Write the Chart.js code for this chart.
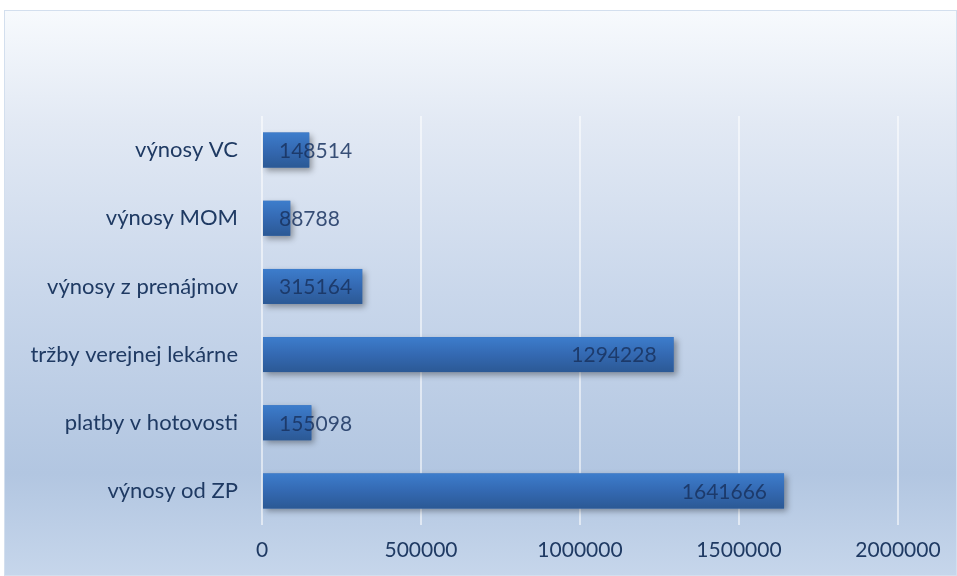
<!DOCTYPE html>
<html>
<head>
<meta charset="utf-8">
<script src="https://cdn.jsdelivr.net/npm/chart.js@4"></script>
<style>
  html, body { margin: 0; padding: 0; background: #fff; }
  #box {
    position: absolute; left: 4px; top: 10px; width: 951px; height: 564px;
    border: 1px solid #D3DFEE;
    background: linear-gradient(to bottom, #F7FAFD 0%, #E2E9F4 20%, #C9D7EB 50%, #B2C6E1 82%, #C6D6EB 100%);
  }
</style>
</head>
<body>
<div id="box"><canvas id="myGraph" width="951" height="564"></canvas></div>
<script>
const categories = [
  'výnosy VC',
  'výnosy MOM',
  'výnosy z prenájmov',
  'tržby verejnej lekárne',
  'platby v hotovosti',
  'výnosy od ZP'
];
const values = [148514, 88788, 315164, 1294228, 155098, 1641666];
const xTicks = [0, 500000, 1000000, 1500000, 2000000];

const fontFamily = 'Lato, "Open Sans", sans-serif';
const textColor = '#1F3A63';

// shaded bars + value labels, drawn on top of the library's bar elements
const barStyle = {
  id: 'barStyle',
  beforeDatasetsDraw(chart) {
    const ctx = chart.ctx;
    ctx.save();
    ctx.shadowColor = 'rgba(0,0,0,0.35)';
    ctx.shadowBlur = 6;
    ctx.shadowOffsetX = 3;
    ctx.shadowOffsetY = 3;
  },
  afterDatasetsDraw(chart) {
    const ctx = chart.ctx;
    ctx.restore();
    const meta = chart.getDatasetMeta(0);
    meta.data.forEach((bar, i) => {
      const top = bar.y - bar.height / 2;
      const g = ctx.createLinearGradient(0, top, 0, top + bar.height);
      g.addColorStop(0, '#3D7DCC');
      g.addColorStop(0.5, '#3469B2');
      g.addColorStop(1, '#2B5995');
      ctx.fillStyle = g;
      ctx.fillRect(bar.base, top, bar.x - bar.base, bar.height);

      const label = String(values[i]);
      ctx.font = '21px ' + fontFamily;
      ctx.fillStyle = 'rgba(25,50,95,0.85)';
      ctx.textBaseline = 'middle';
      const w = ctx.measureText(label).width;
      if (w + 34 < bar.x - bar.base) {
        ctx.textAlign = 'right';
        ctx.fillText(label, bar.x - 17, bar.y + 1);
      } else {
        ctx.textAlign = 'left';
        ctx.fillText(label, bar.base + 16, bar.y + 1);
      }
    });
  }
};

new Chart(document.getElementById('myGraph'), {
  type: 'bar',
  data: {
    labels: categories,
    datasets: [{
      data: values,
      backgroundColor: '#3469B2',
      borderWidth: 0,
      categoryPercentage: 0.9,
      barPercentage: 0.57
    }]
  },
  options: {
    indexAxis: 'y',
    responsive: false,
    animation: false,
    layout: { padding: { top: 105, right: 58, left: 0, bottom: 0 } },
    plugins: {
      legend: { display: false },
      tooltip: { enabled: false }
    },
    scales: {
      x: {
        min: 0,
        max: 2000000,
        afterBuildTicks(axis) { axis.ticks = xTicks.map(v => ({ value: v })); },
        afterFit(axis) { axis.height = 50; },
        grid: { color: 'rgba(255,255,255,0.55)', lineWidth: 2, drawTicks: false },
        border: { display: false },
        ticks: {
          color: textColor, font: { family: fontFamily, size: 21 }, padding: 13, maxRotation: 0,
          callback: v => String(v)
        }
      },
      y: {
        afterFit(axis) { axis.width = 257; },
        grid: { display: false },
        border: { display: false },
        ticks: { color: textColor, font: { family: fontFamily, size: 22 }, padding: 16 }
      }
    }
  },
  plugins: [barStyle]
});
</script>
</body>
</html>
